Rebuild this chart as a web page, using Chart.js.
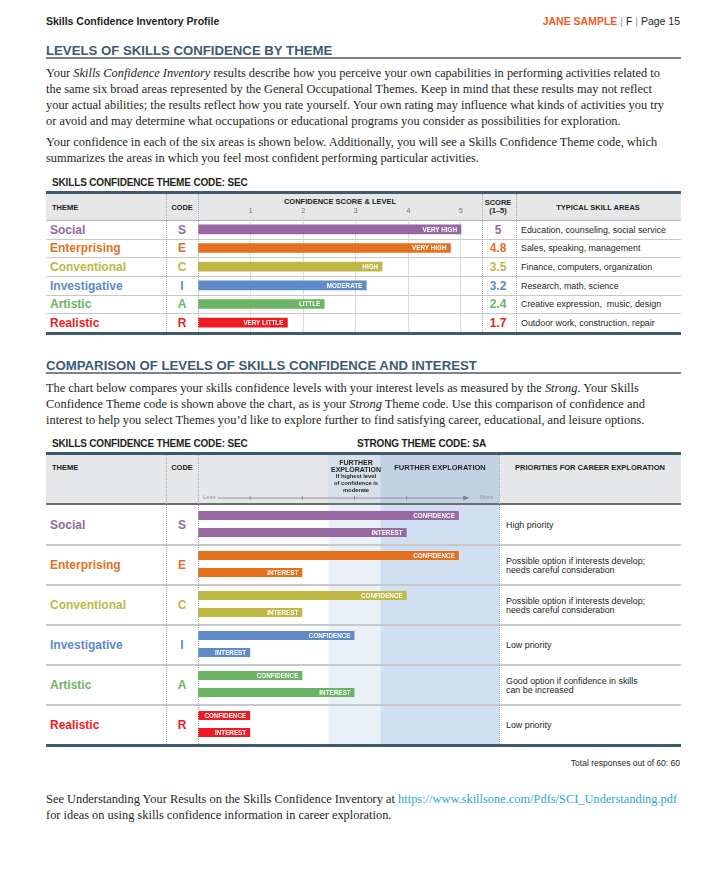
<!DOCTYPE html>
<html>
<head>
<meta charset="utf-8">
<script src="https://cdn.jsdelivr.net/npm/chart.js@4.4.0/dist/chart.umd.min.js"></script>
<style>
  body { margin: 0; background: #fff; }
  #page { position: relative; width: 726px; height: 873px; overflow: hidden; background: #fff;
          font-family: "Liberation Sans", Arial, sans-serif; color: #231f20; }
  .a { position: absolute; white-space: nowrap; line-height: 1; }
  .serif { font-family: "Liberation Serif", "Times New Roman", serif; font-size: 12.4px; color: #231f20; }
  .dot { position: absolute; width: 0; border-left: 1px dotted #a7a9ac; }
  canvas { position: absolute; }
</style>
</head>
<body>
<div id="page"></div>

<script>
// ---- data ----
var themes = ['Social', 'Enterprising', 'Conventional', 'Investigative', 'Artistic', 'Realistic']
var codes = ['S', 'E', 'C', 'I', 'A', 'R']
var themeColors = ['#9868a2', '#e4701f', '#bfb845', '#5f8bc9', '#6bb463', '#ed1c24']
var confidenceScores = [5, 4.8, 3.5, 3.2, 2.4, 1.7]
var confidenceLevels = ['VERY HIGH', 'VERY HIGH', 'HIGH', 'MODERATE', 'LITTLE', 'VERY LITTLE']
var skillAreas = ['Education, counseling, social service', 'Sales, speaking, management',
  'Finance, computers, organization', 'Research, math, science',
  'Creative expression,  music, design', 'Outdoor work, construction, repair']
var scoreTicks = [1, 2, 3, 4, 5]

var confidenceLevel = [5, 5, 4, 3, 2, 1]
var interestLevel = [4, 2, 2, 1, 3, 1]
var exploreBands = [2.5, 3.5]
var priorities = ['High priority', 'Possible option if interests develop;<br>needs careful consideration',
  'Possible option if interests develop;<br>needs careful consideration', 'Low priority',
  'Good option if confidence in skills<br>can be increased', 'Low priority']

var NARROW = '"Liberation Sans Narrow", "Arial Narrow", "Liberation Sans", sans-serif'
var SANS = '"Liberation Sans", Arial, sans-serif'
var page = document.getElementById('page')

function put(x, y, html, css, align) {
  var d = document.createElement('div')
  d.className = 'a'
  d.innerHTML = html
  d.style.cssText = css || ''
  d.style.left = x + 'px'
  d.style.top = y + 'px'
  var tx = align === 'c' ? '-50%' : (align === 'r' ? '-100%' : '0')
  d.style.transform = 'translate(' + tx + ',-50%)'
  page.appendChild(d)
  return d
}
function box(x, y, w, h, color, z) {
  var d = document.createElement('div')
  d.style.cssText = 'position:absolute;left:' + x + 'px;top:' + y + 'px;width:' + w + 'px;height:' + h + 'px;background:' + color + ';z-index:' + (z || 0)
  page.appendChild(d)
}
function dotted(x, y1, y2) {
  var d = document.createElement('div')
  d.className = 'dot'
  d.style.left = x + 'px'
  d.style.top = y1 + 'px'
  d.style.height = (y2 - y1) + 'px'
  d.style.zIndex = 3
  page.appendChild(d)
}
function para(x, y0, lines, step) {
  lines.forEach(function (t, i) { put(x, y0 + i * step, t, '', 'l').classList.add('serif') })
}

// ---- page header ----
put(46, 21, 'Skills Confidence Inventory Profile', 'font:bold 10.5px ' + NARROW)
put(680, 21, '<b style="color:#ef5b25">JANE SAMPLE</b><span style="color:#999"> | </span>F<span style="color:#999"> | </span>Page 15', 'font:10.5px ' + NARROW, 'r')

put(46, 50, 'LEVELS OF SKILLS CONFIDENCE BY THEME', 'font:bold 13.2px ' + NARROW + ';color:#3d5a74')
box(46, 57, 635, 2, '#808285')
para(46, 73, ['Your <i>Skills Confidence Inventory</i> results describe how you perceive your own capabilities in performing activities related to',
  'the same six broad areas represented by the General Occupational Themes. Keep in mind that these results may not reflect',
  'your actual abilities; the results reflect how you rate yourself. Your own rating may influence what kinds of activities you try',
  'or avoid and may determine what occupations or educational programs you consider as possibilities for exploration.'], 16)
para(46, 142, ['Your confidence in each of the six areas is shown below. Additionally, you will see a Skills Confidence Theme code, which',
  'summarizes the areas in which you feel most confident performing particular activities.'], 16)

// ---- table 1 frame ----
put(52, 182, 'SKILLS CONFIDENCE THEME CODE: SEC', 'font:bold 10px ' + NARROW + ';letter-spacing:-0.15px')
box(46, 191, 635, 3, '#3f5a6f')
box(46, 194, 635, 26, '#e6e7e8')
box(46, 220, 635, 1, '#b1b3b6')
for (var i = 1; i < 6; i++) box(46, 220 + i * 18.67, 635, 1, '#c7c8ca')
box(46, 332, 635, 3, '#3f5a6f')
;[166, 198, 482, 516].forEach(function (x) { dotted(x, 194, 332) })
put(52, 207, 'THEME', 'font:bold 7.5px ' + NARROW)
put(182, 207, 'CODE', 'font:bold 7.5px ' + NARROW, 'c')
put(340, 201, 'CONFIDENCE SCORE &amp; LEVEL', 'font:bold 7.5px ' + NARROW, 'c')
put(498, 202, 'SCORE', 'font:bold 7.5px ' + NARROW, 'c')
put(498, 210, '(1–5)', 'font:bold 7.5px ' + NARROW, 'c')
put(598, 207, 'TYPICAL SKILL AREAS', 'font:bold 7.5px ' + NARROW, 'c')
themes.forEach(function (t, i) {
  var y = 229.5 + i * 18.67
  put(50, y, t, 'font:bold 12px ' + SANS + ';color:' + themeColors[i])
  put(182, y, codes[i], 'font:bold 12px ' + SANS + ';color:' + themeColors[i], 'c')
  put(498, y, String(confidenceScores[i]), 'font:bold 12px ' + SANS + ';color:' + themeColors[i], 'c')
  put(521, y, skillAreas[i], 'font:8.9px ' + SANS + ';white-space:pre')
})

// ---- section 2 text ----
put(46, 365, 'COMPARISON OF LEVELS OF SKILLS CONFIDENCE AND INTEREST', 'font:bold 13.2px ' + NARROW + ';color:#3d5a74')
box(46, 372, 635, 2, '#808285')
para(46, 388, ['The chart below compares your skills confidence levels with your interest levels as measured by the <i>Strong</i>. Your Skills',
  'Confidence Theme code is shown above the chart, as is your <i>Strong</i> Theme code. Use this comparison of confidence and',
  'interest to help you select Themes you’d like to explore further to find satisfying career, educational, and leisure options.'], 16)

// ---- table 2 frame ----
put(52, 443, 'SKILLS CONFIDENCE THEME CODE: SEC', 'font:bold 10px ' + NARROW + ';letter-spacing:-0.15px')
put(357, 443, 'STRONG THEME CODE: SA', 'font:bold 10px ' + NARROW + ';letter-spacing:-0.15px')
box(46, 452, 635, 3, '#3f5a6f')
box(46, 455, 635, 48, '#e6e7e8')
box(46, 503, 635, 2, '#6d6e71', 2)
for (var k = 1; k < 6; k++) box(46, 504 + k * 40, 635, 1.5, '#c7c8ca', 2)
box(46, 744, 635, 3, '#3f5a6f', 2)
;[166, 198, 499].forEach(function (x) { dotted(x, 455, 744) })
put(52, 467, 'THEME', 'font:bold 7.5px ' + NARROW)
put(182, 467, 'CODE', 'font:bold 7.5px ' + NARROW, 'c')
put(356, 461.5, 'FURTHER', 'font:bold 7px ' + NARROW + ';z-index:4', 'c')
put(356, 468.5, 'EXPLORATION', 'font:bold 7px ' + NARROW + ';z-index:4', 'c')
put(356, 476, 'If highest level', 'font:bold 5.8px ' + NARROW + ';z-index:4', 'c')
put(356, 483, 'of confidence is', 'font:bold 5.8px ' + NARROW + ';z-index:4', 'c')
put(356, 490, 'moderate', 'font:bold 5.8px ' + NARROW + ';z-index:4', 'c')
put(440, 467, 'FURTHER EXPLORATION', 'font:bold 7.5px ' + NARROW + ';z-index:4', 'c')
put(590, 467, 'PRIORITIES FOR CAREER EXPLORATION', 'font:bold 7.5px ' + NARROW, 'c')
put(203, 497, 'Less', 'font:6px ' + NARROW + ';color:#939598;z-index:4')
put(480, 497, 'More', 'font:6px ' + NARROW + ';color:#939598;z-index:4')
themes.forEach(function (t, i) {
  var y = 525 + i * 40
  put(50, y, t, 'font:bold 12px ' + SANS + ';color:' + themeColors[i])
  put(182, y, codes[i], 'font:bold 12px ' + SANS + ';color:' + themeColors[i], 'c')
  put(506, y, priorities[i], 'font:8.9px ' + SANS + ';line-height:8.5px')
})
put(680, 763, 'Total responses out of 60: 60', 'font:8.5px ' + SANS, 'r')
para(46, 799, ['See Understanding Your Results on the Skills Confidence Inventory at <span style="color:#2aa7d9">https://www.skillsone.com/Pdfs/SCI_Understanding.pdf</span>',
  'for ideas on using skills confidence information in career exploration.'], 16)

// ---- canvases ----
function makeCanvas(x, y, w, h) {
  var c = document.createElement('canvas')
  c.width = w
  c.height = h
  c.style.left = x + 'px'
  c.style.top = y + 'px'
  c.style.width = w + 'px'
  c.style.height = h + 'px'
  c.style.zIndex = 1
  page.appendChild(c)
  return c
}

// white label at the end of each bar
var barTextPlugin = {
  id: 'barText',
  afterDatasetsDraw: function (chart) {
    var ctx = chart.ctx
    ctx.save()
    ctx.fillStyle = '#fff'
    ctx.font = 'bold 6.3px ' + NARROW
    ctx.textAlign = 'right'
    ctx.textBaseline = 'middle'
    chart.data.datasets.forEach(function (ds, di) {
      chart.getDatasetMeta(di).data.forEach(function (bar, j) {
        var txt = Array.isArray(ds.barText) ? ds.barText[j] : ds.barText
        ctx.fillText(txt, bar.x - 4, bar.y + 0.5)
      })
    })
    ctx.restore()
  }
}

Chart.defaults.font.family = NARROW

new Chart(makeCanvas(198, 196, 284, 136), {
  type: 'bar',
  data: {
    labels: themes,
    datasets: [{
      data: confidenceScores,
      backgroundColor: themeColors,
      barText: confidenceLevels,
      barThickness: 9
    }]
  },
  options: {
    responsive: false,
    animation: false,
    indexAxis: 'y',
    layout: { padding: 0 },
    plugins: { legend: { display: false }, tooltip: { enabled: false } },
    scales: {
      x: {
        position: 'top',
        min: 0,
        max: 5.4,
        afterBuildTicks: function (s) { s.ticks = scoreTicks.map(function (v) { return { value: v } }) },
        afterFit: function (s) { s.height = 24 },
        ticks: { font: { size: 7 }, color: '#6d6e71', padding: 2, maxRotation: 0 },
        grid: { color: '#d9dadb', tickLength: 3 },
        border: { display: false }
      },
      y: { display: false }
    }
  },
  plugins: [barTextPlugin]
})

// shaded exploration bands + less/more arrow
var bandPlugin = {
  id: 'bands',
  beforeDatasetsDraw: function (chart) {
    var ctx = chart.ctx, x = chart.scales.x
    var a = x.getPixelForValue(exploreBands[0])
    var b = x.getPixelForValue(exploreBands[1])
    ctx.save()
    ctx.fillStyle = 'rgba(183,205,232,0.30)'
    ctx.fillRect(a, 0, b - a, chart.height)
    ctx.fillStyle = 'rgba(150,185,225,0.45)'
    ctx.fillRect(b, 0, x.right - b, chart.height)
    // arrow in header
    var ay = 43
    var x0 = x.getPixelForValue(0.38), x1 = x.getPixelForValue(5.2)
    ctx.strokeStyle = '#808285'
    ctx.lineWidth = 0.8
    ctx.beginPath()
    ctx.moveTo(x0, ay); ctx.lineTo(x1 - 4, ay)
    scoreTicks.slice(0, 4).forEach(function (v) {
      var px = x.getPixelForValue(v)
      ctx.moveTo(px, ay - 2); ctx.lineTo(px, ay + 2)
    })
    ctx.stroke()
    ctx.fillStyle = '#808285'
    ctx.beginPath()
    ctx.moveTo(x1, ay); ctx.lineTo(x1 - 6, ay - 2.5); ctx.lineTo(x1 - 6, ay + 2.5); ctx.closePath()
    ctx.fill()
    ctx.restore()
  }
}

new Chart(makeCanvas(198, 455, 301, 289), {
  type: 'bar',
  data: {
    labels: themes,
    datasets: [
      { label: 'CONFIDENCE', data: confidenceLevel, backgroundColor: themeColors, barText: 'CONFIDENCE' },
      { label: 'INTEREST', data: interestLevel, backgroundColor: themeColors, barText: 'INTEREST' }
    ]
  },
  options: {
    responsive: false,
    animation: false,
    indexAxis: 'y',
    layout: { padding: { top: 49, left: 0, right: 0, bottom: 0 } },
    categoryPercentage: 0.85,
    barPercentage: 0.53,
    plugins: { legend: { display: false }, tooltip: { enabled: false } },
    scales: {
      x: { min: 0, max: 5.77, display: false },
      y: { display: false }
    }
  },
  plugins: [bandPlugin, barTextPlugin]
})
</script>
</body>
</html>
